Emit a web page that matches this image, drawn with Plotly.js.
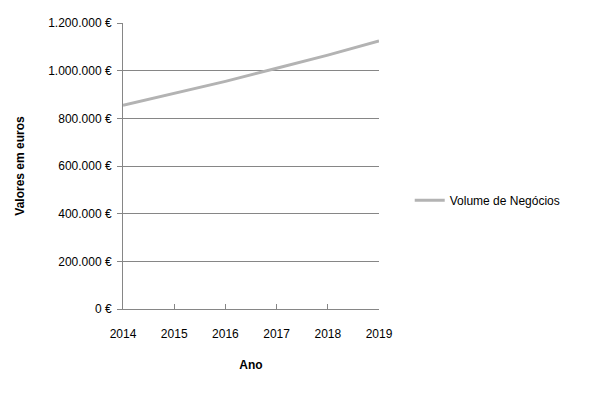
<!DOCTYPE html>
<html>
<head>
<meta charset="utf-8">
<script src="https://cdn.plot.ly/plotly-3.0.1.min.js"></script>
<style>html,body{margin:0;padding:0;background:#fff}#chart{width:600px;height:396px}</style>
</head>
<body>
<div id="chart"></div>
<script>
const years = [2014, 2015, 2016, 2017, 2018, 2019];
const volume = [855000, 905000, 955000, 1010000, 1065000, 1125000];
const seriesName = "Volume de Negócios";
const yTicks = [0, 200000, 400000, 600000, 800000, 1000000, 1200000];
const yTickText = ["0 €", "200.000 €", "400.000 €", "600.000 €", "800.000 €", "1.000.000 €", "1.200.000 €"];

const font = "'Liberation Sans', Arial, sans-serif";

Plotly.newPlot('chart', [{
  x: years, y: volume, type: 'scatter', mode: 'lines', name: seriesName,
  line: {color: '#b3b3b3', width: 3}
}], {
  width: 600, height: 396,
  margin: {l: 123, r: 221, t: 23, b: 87},
  paper_bgcolor: '#fff', plot_bgcolor: '#fff',
  font: {family: font, size: 12, color: '#000'},
  showlegend: true,
  legend: {x: 1.12, y: 0.38, xanchor: 'left', yanchor: 'middle', font: {family: font, size: 12}},
  xaxis: {
    range: [2014, 2019], tickvals: years, ticktext: years.map(String),
    showgrid: false, zeroline: false, showline: true, linecolor: '#868686', linewidth: 1,
    ticks: 'inside', ticklen: 5, tickcolor: '#868686', ticklabelstandoff: 14,
    title: {text: 'Ano', font: {family: font, size: 12, weight: 'bold'}, standoff: 20}
  },
  yaxis: {
    range: [0, 1200000], tickvals: yTicks, ticktext: yTickText,
    showgrid: true, gridcolor: '#868686', gridwidth: 1, zeroline: false,
    showline: true, linecolor: '#868686', linewidth: 1,
    ticks: 'outside', ticklen: 5, tickcolor: '#868686', ticklabelstandoff: 3,
    title: {text: 'Valores em euros', font: {family: font, size: 12, weight: 'bold'}, standoff: 20}
  }
}, {displayModeBar: false, staticPlot: true});
</script>
</body>
</html>
